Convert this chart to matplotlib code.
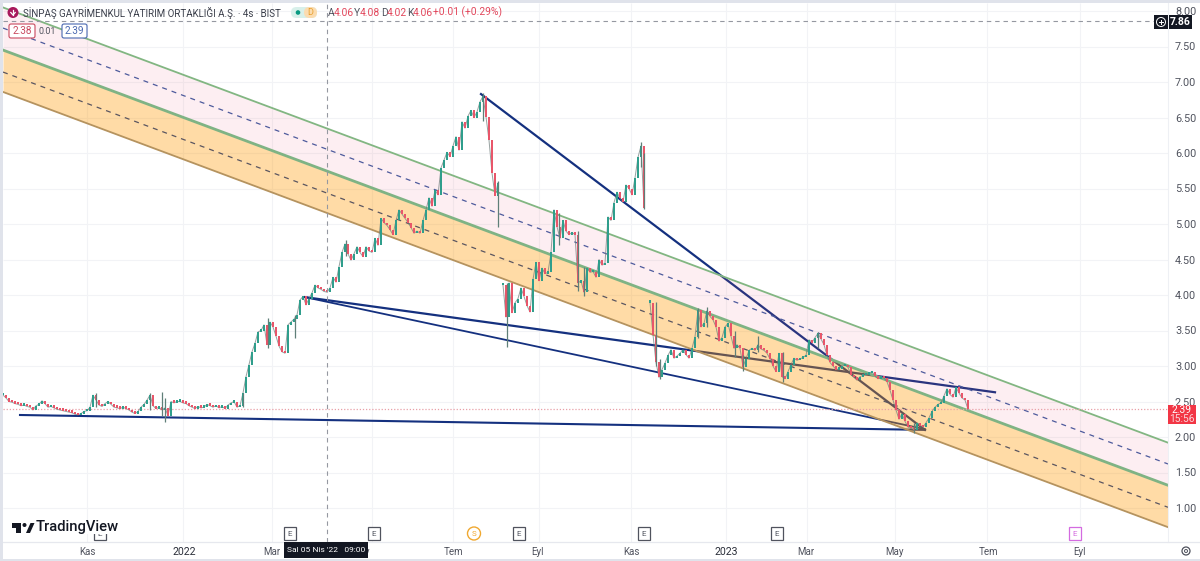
import numpy as np
import matplotlib
matplotlib.use("Agg")
import matplotlib.pyplot as plt
from matplotlib.patches import Rectangle, Circle, Polygon, FancyBboxPatch

plt.rcParams['font.family'] = ['Roboto', 'DejaVu Sans']

# kapanislar, 3 px aralikli, uc parca
seg1_start = 3
seg1_close = [2.59,2.55,2.50,2.49,2.47,2.46,2.44,2.45,2.43,2.42,
              2.38,2.44,2.46,2.51,2.47,2.42,2.43,2.41,2.39,2.38,
              2.37,2.36,2.35,2.34,2.32,2.31,2.33,2.36,2.37,2.42,
              2.59,2.52,2.45,2.43,2.47,2.50,2.46,2.42,2.41,2.40,
              2.42,2.40,2.38,2.35,2.33,2.36,2.42,2.46,2.52,2.59,
              2.44,2.40,2.42,2.38,2.41,2.30,2.50,2.48,2.50,2.50,
              2.48,2.47,2.44,2.42,2.40,2.43,2.41,2.42,2.46,2.44,
              2.42,2.44,2.41,2.43,2.40,2.45,2.48,2.50,2.42,2.44,
              2.62,2.85,3.02,3.20,3.32,3.48,3.50,3.58,3.30,3.62,
              3.55,3.42,3.28,3.20,3.18,3.58,3.62,3.66,3.72,3.93,
              3.98,3.86,3.95,4.03,4.14,4.10,4.08,4.05,4.04,4.10,
              4.25,4.18,4.40,4.60,4.72,4.58,4.49,4.58,4.68,4.60,
              4.54,4.68,4.62,4.60,4.80,4.70,5.08,5.02,4.98,4.92,
              4.85,5.05,5.20,5.14,5.08,5.02,4.95,4.87,4.90,4.87,
              5.05,5.20,5.37,5.25,5.48,5.41,5.79,5.90,6.01,5.95,
              6.10,6.23,6.04,6.44,6.35,6.52,6.60,6.50,6.58,6.72,
              6.80,6.51,6.18,5.72,5.40,5.58]
seg2_start = 503
seg2_close = [4.14,3.69,4.17,3.75,3.89,3.95,4.10,3.98,3.85,3.76,
              4.22,4.46,4.20,4.38,4.30,4.32,4.60,5.20,4.96,4.80,
              5.05,4.90,4.85,4.88,4.85,4.17,4.20,4.04,4.38,4.32,
              4.33,4.25,4.50,4.42,4.45,5.10,5.05,5.30,5.45,5.36,
              5.31,5.55,5.50,5.41,5.65,5.94,6.10,5.23]
seg3_start = 650
seg3_close = [3.89,3.44,3.05,2.84,2.95,3.04,3.15,3.23,3.11,3.14,
              3.18,3.23,3.16,3.11,3.25,3.41,3.79,3.55,3.60,3.78,
              3.70,3.65,3.55,3.35,3.40,3.55,3.60,3.42,3.25,3.30,
              3.25,2.99,3.10,3.22,3.25,3.22,3.30,3.24,3.22,3.18,
              3.10,3.00,2.92,3.18,2.85,2.82,2.92,3.02,3.11,3.08,
              3.10,3.12,3.15,3.37,3.33,3.40,3.46,3.38,3.30,3.15,
              3.05,3.00,2.95,2.96,3.00,3.02,2.98,2.88,2.84,2.80,
              2.85,2.87,2.88,2.90,2.92,2.86,2.82,2.84,2.83,2.78,
              2.66,2.52,2.38,2.25,2.33,2.22,2.14,2.12,2.10,2.20,
              2.16,2.14,2.20,2.27,2.36,2.42,2.46,2.48,2.58,2.68,
              2.60,2.56,2.70,2.62,2.55,2.52,2.39]

# belirgin fitiller
wick_x = [96,150,162,165,243,268,295,346,483,498,507,559,578,584,641,644,656,660,698,707,735,743,758,783,818,914]
wick_high = [2.62,2.62,2.63,2.55,2.62,3.67,3.72,4.78,6.84,5.60,4.17,5.15,4.90,4.40,6.16,6.00,3.90,3.10,3.82,3.83,3.50,3.15,3.42,3.20,3.48,2.20]
wick_low = [2.42,2.38,2.30,2.21,2.42,3.26,3.40,4.55,6.45,4.96,3.27,4.70,4.05,3.98,5.80,5.21,3.00,2.81,3.40,3.55,3.12,2.93,3.20,2.78,3.25,2.05]

# kanal cizgileri: sol ve sag uc fiyatlari
chan_x = [3, 1168]
chan_top = [8.05, 1.92]
chan_top_mid = [7.76, 1.62]
chan_center = [7.45, 1.32]
chan_low_mid = [7.14, 1.01]
chan_bottom = [6.86, 0.73]

# trend cizgileri
trend_base_x, trend_base_y = [20, 925], [2.31, 2.10]
trend_low_x, trend_low_y = [305, 925], [3.97, 2.11]
trend_mid_x, trend_mid_y = [305, 995], [3.97, 2.63]
trend_top_x, trend_top_y = [481, 925], [6.83, 2.10]

last_price = 2.39
cross_price = 7.86
cross_x = 327

price_ticks = [1.00,1.50,2.00,2.50,3.00,3.50,4.00,4.50,5.00,5.50,6.00,6.50,7.00,7.50,8.00]
time_pos = [87,184,272,360,453,538,631,726,806,894,988,1079]
time_labels = ["Kas","2022","Mar","May","Tem","Eyl","Kas","2023","Mar","May","Tem","Eyl"]
grid_x = [87,183,272,372,453,539,631,726,807,895,987,1080]

W, H = 1200, 561
fig = plt.figure(figsize=(W/100, H/100), dpi=100, facecolor="white")
# grafik alani 3..1168 px yatay, 3..542 px dikey
ax = fig.add_axes([3/W, 1-542/H, (1168-3)/W, (542-3)/H])
ax.set_xlim(3, 1168)
ax.set_ylim(8-(542-11)/71, 8+(11-3)/71)

ax.set_axisbelow(True)
for s in ax.spines.values():
    s.set_visible(False)
ax.set_yticks(price_ticks)
ax.set_yticklabels(["%.2f" % v for v in price_ticks], fontsize=7.8, color="#50535e")
ax.yaxis.tick_right()
ax.tick_params(axis="y", length=0, pad=5)
ax.set_xticks(time_pos)
ax.set_xticklabels(time_labels, fontsize=7, color="#50535e")
ax.tick_params(axis="x", length=0, pad=3.5)
for lab in ax.get_xticklabels():
    if lab.get_text() in ("2022", "2023"):
        lab.set_fontsize(7.6)
        lab.set_color("#2a2e39")
ax.hlines(price_ticks, 3, 1168, color="#f2f3f6", lw=0.8, zorder=0)
ax.vlines(grid_x, ax.get_ylim()[0], ax.get_ylim()[1], color="#f2f3f6", lw=0.8, zorder=0)

# trend cizgileri kanal dolgusunun altinda kalir, rengi dolgudan gecer
navy = "#14307f"
ax.plot(trend_base_x, trend_base_y, color=navy, lw=1.5, zorder=0.5)
ax.plot(trend_low_x, trend_low_y, color=navy, lw=1.3, zorder=0.5)
ax.plot(trend_mid_x, trend_mid_y, color=navy, lw=1.6, zorder=0.5)
ax.plot(trend_top_x, trend_top_y, color=navy, lw=1.6, zorder=0.5)

# kanal dolgulari ve cizgileri
ax.fill_between(chan_x, chan_top, chan_center, color="#f06080", alpha=0.1, lw=0, zorder=1)
ax.fill_between(chan_x, chan_center, chan_bottom, color="#ff9800", alpha=0.35, lw=0, zorder=1)
ax.plot(chan_x, chan_top, color="#82b682", lw=1.3, zorder=2)
ax.plot(chan_x, chan_center, color="#7fb384", lw=2.0, zorder=2)
ax.plot(chan_x, chan_bottom, color="#b5935f", lw=1.3, zorder=2)
ax.plot(chan_x, chan_top_mid, color="#4d5a9c", lw=0.9, ls=(0, (4, 4)), zorder=2)
ax.plot(chan_x, chan_low_mid, color="#5a5560", lw=0.9, ls=(0, (4, 4)), zorder=2)

# mumlar
for start, closes in [(seg1_start, seg1_close), (seg2_start, seg2_close), (seg3_start, seg3_close)]:
    closes = np.array(closes)
    xs = start + 3*np.arange(len(closes))
    opens = np.r_[closes[0], closes[:-1]]
    up = closes >= opens
    bottoms = np.minimum(opens, closes)
    heights = np.maximum(np.abs(closes-opens), 0.035)
    ax.plot(xs, closes, color="#6b7a78", lw=0.7, alpha=0.7, zorder=3)
    ax.bar(xs[up], heights[up], bottom=bottoms[up], width=1.6, color="#2f9e8c", lw=0, zorder=3)
    ax.bar(xs[~up], heights[~up], bottom=bottoms[~up], width=1.6, color="#e8566a", lw=0, zorder=3)
ax.vlines(wick_x, wick_low, wick_high, color="#5f7f78", lw=0.9, zorder=3)

# son fiyat ve crosshair
ax.axhline(last_price, color="#e8a0a8", lw=0.9, ls=(0, (1, 1.5)), zorder=2)
ax.axhline(cross_price, color="#9598a1", lw=0.8, ls=(0, (4, 3.5)), zorder=5)
ax.axvline(cross_x, color="#9598a1", lw=0.8, ls=(0, (4, 3.5)), zorder=5)

# cerceve, yazilar ve etiketler: piksel koordinatli ust katman
ov = fig.add_axes([0, 0, 1, 1], facecolor="none")
ov.set_xlim(0, W)
ov.set_ylim(H, 0)
ov.axis("off")

for r in [(0, 0, 2.5, H), (0, 0, W, 2.5), (0, 559, W, 2)]:
    ov.add_patch(Rectangle(r[:2], r[2], r[3], color="#e0e3eb", lw=0))
ov.plot([3, W], [542, 542], color="#e6e8ee", lw=0.9)
ov.plot([1168, 1168], [3, 542], color="#eef0f4", lw=0.8, zorder=0)

# baslik
ov.add_patch(Circle((13, 12.5), 5.5, color="#a8195c", lw=0))
ov.plot([13, 13], [9.5, 14.5], color="white", lw=0.9)
ov.plot([10.8, 13, 15.2], [12.5, 15, 12.5], color="white", lw=0.9)
ov.text(23, 12.5, "SİNPAŞ GAYRİMENKUL YATIRIM ORTAKLIĞI A.Ş. · 4s · BIST", fontsize=7.05, color="#3a3e4a", va="center")
ov.add_patch(FancyBboxPatch((291, 7), 26, 11, boxstyle="round,pad=0,rounding_size=5.5", color="#d8f0ea", lw=0))
ov.add_patch(FancyBboxPatch((304, 7), 13, 11, boxstyle="round,pad=0,rounding_size=5.5", color="#fbdcb0", lw=0))
ov.add_patch(Circle((298, 12.5), 2.3, color="#089981", lw=0))
ov.text(310, 12.5, "D", fontsize=6.5, color="#e8a030", ha="center", va="center")
ohlc = [(328, "A", 334, "4.06"), (354, "Y", 360, "4.08"), (381, "D", 387, "4.02"), (407, "K", 413, "4.06")]
for xa, a, xb, b in ohlc:
    ov.text(xa, 12.5, a, fontsize=7.4, color="#50535e", va="center")
    ov.text(xb, 12.5, b, fontsize=7.4, color="#e2475c", va="center")
ov.text(433, 12.5, "+0.01 (+0.29%)", fontsize=7.4, color="#e2475c", va="center")

# sol ust kutular
ov.add_patch(FancyBboxPatch((9, 24), 26, 14, boxstyle="round,pad=0,rounding_size=2", fc="white", ec="#c9495f", lw=0.8, zorder=6))
ov.text(22, 31, "2.38", fontsize=7.2, color="#c9495f", ha="center", va="center", zorder=7)
ov.text(47.5, 31, "0.01", fontsize=6.4, color="#50535e", ha="center", va="center", zorder=7)
ov.add_patch(FancyBboxPatch((62, 24), 25, 14, boxstyle="round,pad=0,rounding_size=2", fc="white", ec="#4a68b0", lw=0.8, zorder=6))
ov.text(74.5, 31, "2.39", fontsize=7.2, color="#4a68b0", ha="center", va="center", zorder=7)

# sag etiketler
ov.add_patch(Rectangle((1154, 15), 14, 14, color="#131722", lw=0, zorder=6))
ov.add_patch(Circle((1161, 22), 4.5, fc="none", ec="white", lw=0.7, zorder=7))
ov.plot([1158.8, 1163.2], [22, 22], color="white", lw=0.7, zorder=7)
ov.plot([1161, 1161], [19.8, 24.2], color="white", lw=0.7, zorder=7)
ov.add_patch(Rectangle((1169, 15), 23, 14, color="#131722", lw=0, zorder=6))
ov.text(1180.5, 22, "7.86", color="white", fontsize=7.6, ha="center", va="center", fontweight="bold", zorder=7)
ov.add_patch(Rectangle((1168, 405), 28, 19, color="#f23645", lw=0, zorder=6))
ov.text(1182, 410, "2.39", color="white", fontsize=7.4, ha="center", va="center", zorder=7)
ov.text(1182, 419, "15:56", color="#fbd5d9", fontsize=7.4, ha="center", va="center", zorder=7)

# zaman etiketi
ov.add_patch(Rectangle((284, 542), 84, 16, color="#131722", lw=0, zorder=6))
ov.text(326, 550, "Sal 05 Nis '22   09:00", color="white", fontsize=6.0, ha="center", va="center", zorder=7)
# ayar simgesi
ov.add_patch(Circle((1186, 551), 4, fc="none", ec="#50535e", lw=0.9))
ov.add_patch(Circle((1186, 551), 1.5, fc="none", ec="#50535e", lw=0.7))

# E ve S isaretleri
for ex in [100, 290, 374, 519, 644, 777]:
    ov.add_patch(Rectangle((ex-6, 527), 12, 13, fc="white", ec="#50535e", lw=0.9))
    ov.text(ex, 533.5, "E", fontsize=5.8, color="#50535e", ha="center", va="center")
ov.add_patch(Rectangle((1069, 527), 12, 13, fc="white", ec="#d46be0", lw=0.9))
ov.text(1075, 533.5, "E", fontsize=5.8, color="#d46be0", ha="center", va="center")
ov.add_patch(Circle((474, 533.5), 6.5, fc="white", ec="#f0a830", lw=1))
ov.text(474, 533.5, "S", fontsize=5.8, color="#f0a830", ha="center", va="center")

# logo
ov.add_patch(Rectangle((30, 520), 88, 14, color="white", lw=0, zorder=6))
ov.add_patch(Polygon([(11.5,523),(21,523),(21,533),(16,533),(16,527.5),(11.5,527.5)], color="#131722", lw=0, zorder=7))
ov.add_patch(Circle((24.5,525), 2, color="#131722", lw=0, zorder=7))
ov.add_patch(Polygon([(26,533),(30.5,523),(34.5,523),(30,533)], color="#131722", lw=0, zorder=7))
ov.text(36, 527.5, "TradingView", fontsize=10.6, color="#131722", va="center", fontweight="medium", zorder=7)

fig.savefig("out.png", dpi=100)
